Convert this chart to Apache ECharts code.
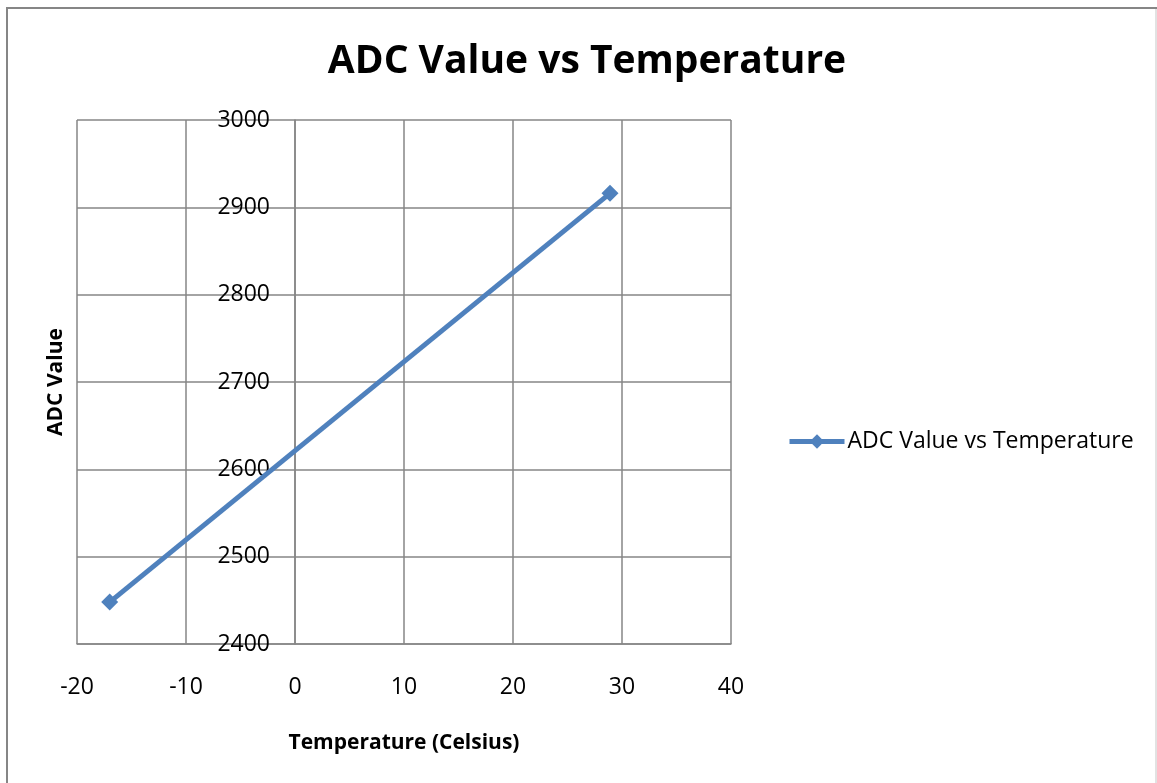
<!DOCTYPE html>
<html>
<head>
<meta charset="utf-8">
<script src="https://cdn.jsdelivr.net/npm/echarts@6/dist/echarts.min.js"></script>
<style>html,body{margin:0;padding:0;background:#fff}#c{width:1157px;height:783px}</style>
</head>
<body>
<div id="c"></div>
<script>
const seriesName = 'ADC Value vs Temperature';
const temperatures = [-17, 28.9];
const adcValues = [2448, 2916];
const xTicks = [-20, 40, 10];
const yTicks = [2400, 3000, 100];

const chart = echarts.init(document.getElementById('c'), null, {renderer: 'canvas'});
const FONT = '"Open Sans", sans-serif';
chart.setOption({
  animation: false,
  backgroundColor: '#ffffff',
  title: {
    text: 'ADC Value vs Temperature',
    left: 582, top: 37, textAlign: 'center',
    textStyle: {fontFamily: FONT, fontWeight: 'bold', fontSize: 39, color: '#000'}
  },
  legend: {
    data: [seriesName],
    left: 782, top: 425,
    itemWidth: 55, itemHeight: 18, itemGap: 5,
    lineStyle: {width: 5, color: '#4F81BD'},
    textStyle: {fontFamily: FONT, fontSize: 23, color: '#000', padding: [0,0,0,-2]}
  },
  grid: {left: 77, right: 426, top: 120, bottom: 139, outerBoundsMode: 'none', containLabel: false},
  xAxis: {
    type: 'value', min: xTicks[0], max: xTicks[1], interval: xTicks[2],
    name: 'Temperature (Celsius)', nameLocation: 'middle', nameGap: 89,
    nameTextStyle: {fontFamily: FONT, fontWeight: 'bold', fontSize: 21, color: '#000'},
    axisLine: {show: true, onZero: false, lineStyle: {color: '#868686', width: 1.5}},
    axisTick: {show: false},
    axisLabel: {fontFamily: FONT, fontSize: 23, color: '#000', margin: 32, formatter: v => String(v)},
    splitLine: {show: true, lineStyle: {color: '#868686', width: 1.5}}
  },
  yAxis: {
    type: 'value', min: yTicks[0], max: yTicks[1], interval: yTicks[2],
    offset: -218,
    name: 'ADC Value', nameLocation: 'middle', nameGap: 228, nameRotate: 90,
    nameTextStyle: {fontFamily: FONT, fontWeight: 'bold', fontSize: 21, color: '#000'},
    axisLine: {show: true, onZero: false, lineStyle: {color: '#868686', width: 1.5}},
    axisTick: {show: false},
    axisLabel: {fontFamily: FONT, fontSize: 23, color: '#000', margin: 25, formatter: v => String(v)},
    splitLine: {show: true, lineStyle: {color: '#868686', width: 1.5}}
  },
  graphic: [
    {type: 'rect', shape: {x: 7, y: 8, width: 1200, height: 820}, style: {fill: 'none', stroke: '#868686', lineWidth: 2}, z: 100},
    {type: 'line', shape: {x1: 1156, y1: 9, x2: 1156, y2: 783}, style: {stroke: '#d9d9d9', lineWidth: 1.5}, z: 100}
  ],
  series: [{
    name: seriesName,
    type: 'line',
    data: temperatures.map((t, i) => [t, adcValues[i]]),
    symbol: 'diamond', symbolSize: 17,
    lineStyle: {color: '#4F81BD', width: 5},
    itemStyle: {color: '#4F81BD'},
    z: 5
  }]
});
</script>
</body>
</html>
